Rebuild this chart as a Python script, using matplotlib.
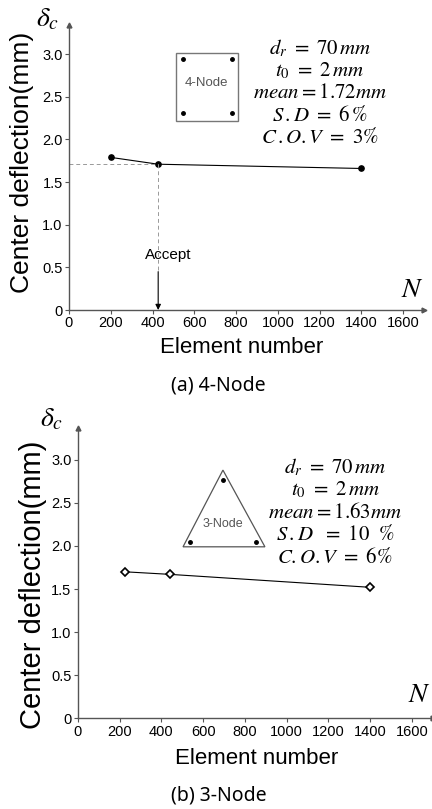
import numpy as np
import matplotlib
matplotlib.use("Agg")
from matplotlib import pyplot as plt
from matplotlib.patches import Rectangle, Polygon

plt.rcParams['font.family'] = ['Liberation Sans', 'DejaVu Sans']
plt.rcParams['mathtext.fontset'] = 'stix'

# data
n_4node = [200, 427, 1400]
d_4node = [1.79, 1.71, 1.66]
n_3node = [226, 443, 1400]
d_3node = [1.70, 1.67, 1.52]

x_ticks = [0, 200, 400, 600, 800, 1000, 1200, 1400, 1600]
y_ticks = [0, 0.5, 1.0, 1.5, 2.0, 2.5, 3.0]
y_ticklabels = ['0', '0.5', '1.0', '1.5', '2.0', '2.5', '3.0']

info_4node = [r'$d_r\ =\ 70\,mm$', r'$t_0\ =\ 2\,mm$', r'$mean = 1.72mm$',
              r'$S\,.D\ =\ 6\,\%$', r'$C\,.O.V\ =\ 3\%$']
info_3node = [r'$d_r\ =\ 70\,mm$', r'$t_0\ =\ 2\,mm$', r'$mean = 1.63mm$',
              r'$S\,.D\ \ =\ 10\ \ \%$', r'$C.O.V\ =\ 6\%$']
accept_n = 427

axis_col = '#555555'

fig = plt.figure(figsize=(4.32, 8.09), dpi=100)


def setup(ax, xmax, ymax, tsize, lsize, xl_pos, yl_pos):
    ax.set_xlim(0, xmax)
    ax.set_ylim(0, ymax)
    for s in ['top', 'right']:
        ax.spines[s].set_visible(False)
    for s in ['left', 'bottom']:
        ax.spines[s].set_color(axis_col)
        ax.spines[s].set_linewidth(1.0)
    ax.set_xticks(x_ticks)
    ax.set_yticks(y_ticks)
    ax.set_yticklabels(y_ticklabels)
    ax.tick_params(direction='out', length=3, width=0.8, color=axis_col,
                   labelsize=tsize, pad=1.5)
    ax.patch.set_alpha(0)
    # arrow heads on axes
    ax.plot(1, 0, '>', color=axis_col, ms=3.5, transform=ax.transAxes, clip_on=False)
    ax.plot(0, 1, '^', color=axis_col, ms=3.5, transform=ax.transAxes, clip_on=False)
    ax.set_xlabel('Element number', fontsize=16)
    ax.set_ylabel('Center deflection(mm)', fontsize=lsize)
    ax.xaxis.set_label_coords(*xl_pos)
    ax.yaxis.set_label_coords(*yl_pos)
    ax.xaxis.label.set_va('center')
    ax.yaxis.label.set_va('center')


# (a) 4-Node
ax1 = fig.add_axes([0.1597, 0.6168, 0.822, 0.352])
setup(ax1, 1700, 3.34, 10.5, 19, (0.487, -0.133), (-0.132, 0.52))
ax1.plot(n_4node, d_4node, '-', color='black', lw=0.8, marker='o', ms=3.8)
ax1.plot([0, accept_n], [d_4node[1], d_4node[1]], '--', color='#999999', lw=0.7, dashes=(4, 3))
ax1.plot([accept_n, accept_n], [d_4node[1], 0.45], '--', color='#999999', lw=0.7, dashes=(4, 3))
ax1.annotate('', xy=(accept_n, 0), xytext=(accept_n, 0.45),
             arrowprops=dict(arrowstyle='-|>', color='black', lw=0.8, mutation_scale=8,
                             shrinkA=0, shrinkB=0))
ax1.text(474, 0.64, 'Accept', ha='center', va='center', fontsize=11)
ax1.add_patch(Rectangle((512, 2.22), 297, 0.80, fill=False, ec='#777777', lw=1.0))
ax1.plot([545, 780, 545, 780], [2.94, 2.94, 2.31, 2.31], 'o', color='black', ms=2.5)
ax1.text(660, 2.66, '4-Node', ha='center', va='center', fontsize=9.5, color='#555555')
for i, t in enumerate(info_4node):
    ax1.text(1201, 3.07 - i * 0.26, t, ha='center', va='center', fontsize=15)
ax1.text(-0.06, 1.02, r'$\delta_c$', transform=ax1.transAxes, fontsize=20,
         ha='center', va='center')
ax1.text(1.0, 0.07, r'$N$', transform=ax1.transAxes, fontsize=20, ha='right', va='center')
fig.text(0.505, 1 - 386 / 809, '(a) 4-Node', ha='center', va='center',
         fontsize=14, family=['Noto Sans', 'DejaVu Sans'])

# (b) 3-Node
ax2 = fig.add_axes([0.18, 0.1121, 0.822, 0.359])
setup(ax2, 1700, 3.37, 10.5, 21, (0.505, -0.137), (-0.126, 0.46))
ax2.plot(n_3node, d_3node, '-', color='black', lw=0.8, marker='D', ms=4,
         mfc='white', mec='black', mew=1.2)
ax2.add_patch(Polygon([(504, 1.99), (896, 1.99), (695, 2.88)], closed=True,
                      fill=False, ec='#555555', lw=0.9))
ax2.plot([695, 538, 854], [2.77, 2.05, 2.05], 'o', color='black', ms=2.5)
ax2.text(695, 2.25, '3-Node', ha='center', va='center', fontsize=9, color='#555555')
for i, t in enumerate(info_3node):
    ax2.text(1232, 2.92 - i * 0.262, t, ha='center', va='center', fontsize=15)
ax2.text(-0.075, 1.03, r'$\delta_c$', transform=ax2.transAxes, fontsize=20,
         ha='center', va='center')
ax2.text(0.995, 0.08, r'$N$', transform=ax2.transAxes, fontsize=20, ha='right', va='center')
fig.text(0.507, 1 - 796 / 809, '(b) 3-Node', ha='center', va='center',
         fontsize=14, family=['Noto Sans', 'DejaVu Sans'])

fig.savefig('out.png', dpi=100)
